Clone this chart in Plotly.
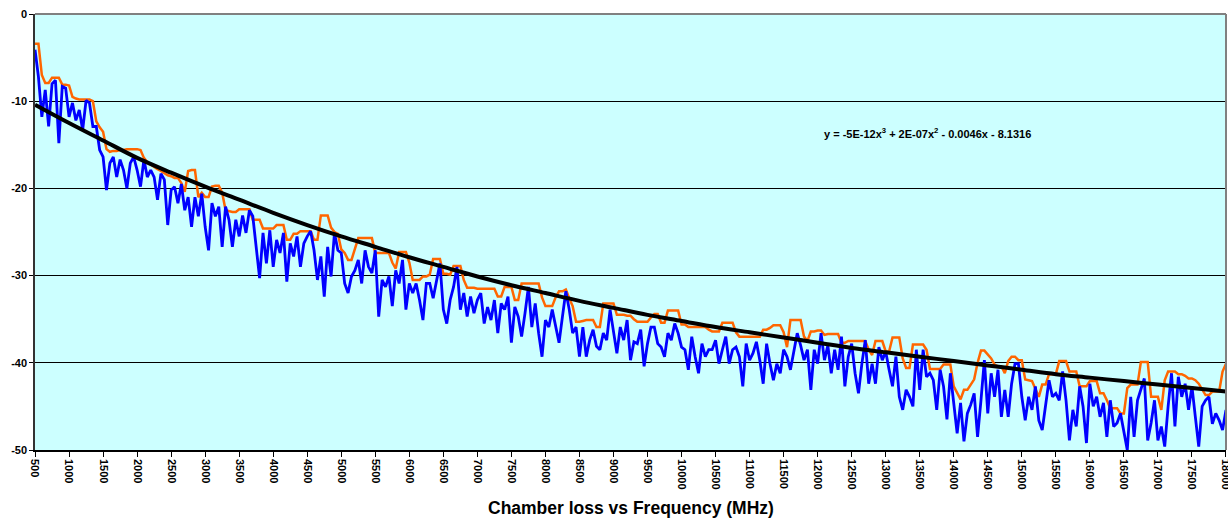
import plotly.graph_objects as go

# Frequency grid (MHz)
freq = list(range(500, 18001, 50))

loss_500_3450 = [-4.1, -7.2, -11.8, -8.7, -12.9, -8.0, -7.6, -14.8, -8.3, -8.5,
                 -11.8, -10.2, -12.2, -11.0, -13.3, -9.9, -10.2, -12.9, -12.9, -15.6,
                 -16.4, -20.2, -17.1, -16.4, -18.7, -16.7, -17.9, -20.0, -17.1, -16.4,
                 -17.9, -19.8, -16.7, -18.7, -17.9, -18.7, -21.3, -18.3, -19.0, -24.2,
                 -20.2, -19.8, -21.7, -19.5, -22.5, -21.0, -24.4, -21.0, -23.2, -20.6,
                 -24.4, -27.1, -21.7, -23.2, -22.1, -26.7, -22.1, -23.6, -26.7, -23.6]
loss_3500_6250 = [-25.5, -23.1, -25.1, -22.5, -23.2, -27.1, -30.3, -25.1, -28.6, -24.8,
                  -29.0, -25.9, -27.4, -25.1, -30.7, -26.3, -27.8, -25.5, -29.0, -26.3,
                  -25.5, -24.9, -27.1, -30.5, -27.8, -32.4, -26.7, -30.1, -25.1, -27.1,
                  -27.4, -30.9, -32.0, -30.1, -29.4, -28.2, -30.9, -27.1, -29.0, -29.7,
                  -27.1, -34.7, -30.5, -31.3, -30.1, -33.5, -29.4, -30.9, -28.2, -33.9,
                  -30.9, -32.0, -30.9, -32.8, -35.1, -30.9]
loss_6300_9150 = [-30.9, -32.6, -30.5, -28.6, -33.9, -35.5, -32.8, -31.3, -29.0, -33.9,
                  -32.0, -34.7, -32.4, -34.3, -32.8, -32.0, -35.5, -33.6, -35.1, -32.8,
                  -36.6, -33.2, -33.9, -32.4, -37.7, -33.6, -34.7, -37.0, -34.3, -31.3,
                  -35.9, -33.2, -36.6, -39.3, -35.1, -35.9, -33.9, -35.9, -37.7, -34.7,
                  -31.8, -33.9, -36.6, -35.9, -39.3, -35.9, -39.3, -37.4, -36.2, -38.1,
                  -38.5, -36.6, -37.4, -33.9, -36.6, -38.9, -35.9, -37.4]
loss_9200_11950 = [-35.1, -39.7, -37.6, -37.8, -36.2, -40.4, -37.8, -35.9, -35.9, -37.8,
                   -38.2, -39.3, -36.6, -37.4, -35.5, -36.6, -38.2, -38.5, -40.8, -37.0,
                   -39.3, -41.2, -37.8, -39.3, -38.5, -38.5, -37.4, -40.1, -38.5, -37.0,
                   -40.1, -38.5, -38.2, -39.3, -42.7, -37.8, -39.7, -38.9, -37.6, -39.7,
                   -42.4, -37.8, -40.1, -42.0, -40.1, -41.2, -38.5, -39.3, -40.8, -38.5,
                   -36.6, -38.0, -39.7, -38.5, -43.1, -38.5]
loss_12000_14900 = [-40.1, -36.6, -39.7, -38.0, -41.2, -38.5, -40.8, -37.0, -42.7, -39.3,
                    -37.8, -41.2, -43.5, -40.1, -37.4, -42.4, -40.1, -42.4, -38.2, -39.7,
                    -38.7, -40.8, -42.7, -39.3, -43.9, -45.4, -43.1, -43.9, -45.0, -38.5,
                    -43.1, -38.5, -41.6, -41.2, -42.0, -45.4, -40.8, -42.7, -46.5, -41.2,
                    -44.3, -48.1, -44.6, -49.0, -45.8, -44.8, -43.5, -48.5, -44.3, -39.7,
                    -45.8, -41.2, -43.9, -40.8, -46.2, -43.1, -46.2, -42.4, -40.1]
loss_14950_18000 = [-40.1, -43.9, -46.6, -43.9, -45.4, -42.7, -46.6, -47.7, -45.0, -42.0,
                    -43.9, -43.5, -44.3, -41.0, -44.3, -48.9, -45.4, -47.3, -42.7, -45.0,
                    -49.2, -42.4, -45.0, -43.9, -46.2, -44.6, -48.5, -44.3, -47.3, -46.9,
                    -45.8, -47.7, -50.0, -43.9, -48.5, -44.3, -42.9, -41.8, -48.9, -46.9,
                    -44.3, -48.9, -47.3, -49.6, -45.0, -41.2, -47.3, -41.6, -43.9, -42.4,
                    -45.4, -42.7, -46.2, -49.6, -45.0, -44.3, -43.9, -47.0, -45.8, -46.6,
                    -47.7, -45.4]

# Max-hold envelope (dB), orange trace
peak_500_3450 = [-3.4, -3.4, -7.0, -7.9, -7.9, -7.3, -7.3, -7.3, -8.1, -8.1,
                 -8.2, -9.5, -9.7, -9.8, -9.8, -9.8, -9.8, -10.0, -12.3, -13.0,
                 -13.5, -15.5, -15.8, -15.7, -15.7, -15.6, -15.6, -15.5, -15.5, -15.5,
                 -15.5, -15.6, -16.5, -17.0, -17.3, -17.6, -17.8, -18.0, -18.3, -18.5,
                 -18.6, -18.8, -18.8, -19.4, -20.4, -18.0, -17.9, -17.9, -21.0, -20.5,
                 -21.0, -21.0, -19.8, -19.7, -19.7, -20.5, -22.5, -22.6, -22.7, -22.7]
peak_3500_6250 = [-22.4, -22.4, -22.4, -22.4, -23.6, -23.6, -23.6, -24.6, -24.6, -24.6,
                  -24.6, -24.2, -24.2, -24.2, -25.9, -25.9, -25.2, -25.2, -24.9, -24.9,
                  -24.9, -24.9, -25.9, -25.9, -23.1, -23.1, -23.1, -24.5, -25.0, -25.2,
                  -27.0, -27.4, -28.2, -28.2, -27.0, -25.7, -25.7, -25.7, -25.7, -25.7,
                  -27.4, -27.4, -27.4, -27.4, -27.4, -28.5, -29.2, -27.3, -27.3, -27.3,
                  -28.5, -30.5, -30.5, -30.5, -30.1, -30.1]
peak_6300_9150 = [-29.9, -28.1, -28.1, -28.1, -29.8, -29.8, -29.9, -28.9, -28.9, -28.9,
                  -30.5, -31.4, -31.4, -31.4, -31.5, -31.5, -31.5, -31.5, -31.5, -31.5,
                  -32.4, -32.4, -31.3, -31.3, -31.3, -32.8, -32.8, -30.9, -30.9, -30.9,
                  -30.9, -30.9, -30.9, -32.5, -33.5, -33.5, -33.5, -32.5, -31.8, -31.8,
                  -31.6, -32.6, -33.5, -35.3, -35.3, -35.2, -35.1, -35.1, -35.1, -35.9,
                  -35.9, -33.2, -33.2, -33.2, -33.2, -34.5, -34.5, -34.5]
peak_9200_11950 = [-34.6, -34.6, -35.0, -35.3, -35.3, -35.3, -35.3, -34.8, -34.4, -34.4,
                   -35.4, -35.4, -34.0, -34.0, -34.0, -34.0, -35.6, -35.6, -35.9, -35.9,
                   -35.9, -35.9, -35.9, -35.9, -36.2, -36.4, -36.4, -36.4, -35.4, -35.4,
                   -35.4, -35.4, -36.5, -37.0, -37.0, -37.0, -37.0, -37.0, -37.0, -37.0,
                   -36.2, -36.2, -36.0, -35.7, -35.7, -35.7, -36.5, -38.2, -35.1, -35.1,
                   -35.1, -35.1, -37.0, -37.5, -36.4, -36.4]
peak_12000_14900 = [-36.3, -36.3, -36.8, -36.7, -36.7, -36.7, -36.7, -37.7, -37.7, -37.5,
                    -37.5, -37.5, -37.5, -37.5, -37.5, -38.5, -39.1, -37.5, -37.5, -37.5,
                    -38.7, -38.7, -37.1, -37.1, -37.1, -39.5, -40.6, -40.6, -37.9, -37.9,
                    -37.9, -37.9, -38.5, -40.7, -40.7, -40.7, -40.7, -40.2, -40.2, -40.2,
                    -42.7, -43.5, -44.2, -43.1, -43.1, -42.5, -41.9, -40.0, -38.6, -38.6,
                    -39.0, -39.5, -40.2, -40.4, -40.4, -41.2, -39.8, -39.3, -39.3]
peak_14950_18000 = [-39.7, -39.7, -41.9, -42.0, -42.1, -43.0, -43.9, -42.5, -42.5, -41.3,
                    -41.3, -41.3, -39.8, -39.8, -39.8, -41.0, -41.0, -41.0, -42.7, -42.7,
                    -42.7, -42.1, -42.1, -42.1, -43.5, -43.5, -44.3, -45.2, -45.2, -45.2,
                    -45.8, -45.8, -42.9, -42.5, -42.5, -42.5, -39.9, -39.9, -39.9, -43.9,
                    -43.9, -43.9, -45.4, -42.0, -41.0, -41.0, -41.0, -41.3, -41.3, -41.5,
                    -41.8, -41.8, -42.0, -42.4, -43.0, -43.7, -43.7, -43.3, -43.3, -43.3,
                    -41.0, -40.1]

# Polynomial trend line (black), read every 500 MHz
trend_freq = list(range(500, 18001, 500))
trend_loss = [-10.4, -12.5, -14.5, -16.5, -18.2, -19.8, -21.3, -22.8, -24.2, -25.5,
              -26.7, -27.9, -29.0, -30.1, -31.1, -32.0, -32.9, -33.7, -34.5, -35.2,
              -35.9, -36.5, -37.1, -37.7, -38.3, -38.8, -39.3, -39.8, -40.3, -40.8,
              -41.3, -41.7, -42.1, -42.5, -42.9, -43.3]

x_ticks = list(range(500, 18001, 500))
y_ticks = [0, -10, -20, -30, -40, -50]

loss = (loss_500_3450 + loss_3500_6250 + loss_6300_9150 + loss_9200_11950
        + loss_12000_14900 + loss_14950_18000)
peak = (peak_500_3450 + peak_3500_6250 + peak_6300_9150 + peak_9200_11950
        + peak_12000_14900 + peak_14950_18000)
assert len(loss) == len(freq), (len(loss), len(freq))
assert len(peak) == len(freq), (len(peak), len(freq))

FONT = "Arial, 'Liberation Sans', sans-serif"

fig = go.Figure()
fig.add_trace(go.Scatter(x=freq, y=peak, mode="lines",
                         line=dict(color="#FF6600", width=2.5), hoverinfo="skip"))
fig.add_trace(go.Scatter(x=freq, y=loss, mode="lines",
                         line=dict(color="#0000FF", width=2.8), hoverinfo="skip"))
fig.add_trace(go.Scatter(x=trend_freq, y=trend_loss, mode="lines",
                         line=dict(color="#000000", width=4, shape="spline"),
                         hoverinfo="skip"))

fig.update_layout(
    width=1228, height=518,
    margin=dict(l=35, r=2, t=14, b=68, autoexpand=False),
    paper_bgcolor="white",
    plot_bgcolor="#CCFFFF",
    showlegend=False,
    font=dict(family=FONT, color="black"),
)
fig.update_xaxes(
    range=[499.5, 18000.5], tickmode="array", tickvals=x_ticks,
    ticktext=[str(v) for v in x_ticks], tickangle=90,
    tickfont=dict(family=FONT, size=11, color="black", weight="bold"),
    ticklabeloverflow="allow",
    showgrid=False, zeroline=False, automargin=False,
    showline=True, linecolor="black", linewidth=1.5,
    ticks="outside", ticklen=5, tickcolor="black",
)
fig.update_yaxes(
    range=[-50, 0], tickmode="array", tickvals=y_ticks,
    ticktext=[str(v) for v in y_ticks],
    tickfont=dict(family=FONT, size=11, color="black", weight="bold"),
    ticklabeloverflow="allow",
    showgrid=True, gridcolor="black", gridwidth=1, zeroline=False,
    automargin=False,
    showline=True, linecolor="#333333", linewidth=1.5,
    ticks="outside", ticklen=4, tickcolor="black",
)
# gray top and right frame
fig.add_shape(type="line", xref="paper", yref="paper", x0=0, x1=1, y0=1, y1=1,
              line=dict(color="#808080", width=2))
fig.add_shape(type="line", xref="paper", yref="paper", x0=1, x1=1, y0=0, y1=1,
              line=dict(color="#808080", width=2))

fig.add_annotation(
    x=13621, y=-13.6, xref="x", yref="y", showarrow=False,
    text="y = -5E-12x<sup>3</sup> + 2E-07x<sup>2</sup> - 0.0046x - 8.1316",
    font=dict(family=FONT, size=11, color="black", weight="bold"),
)
fig.add_annotation(
    x=0.5, y=-0.133, xref="paper", yref="paper", showarrow=False,
    text="Chamber loss vs Frequency (MHz)", yanchor="middle",
    font=dict(family=FONT, size=17.5, color="black", weight="bold"),
)

fig.write_html(
    "out.html",
    config={"displayModeBar": False},
    post_script="document.body.style.margin='0px';document.body.style.padding='0px';",
)
